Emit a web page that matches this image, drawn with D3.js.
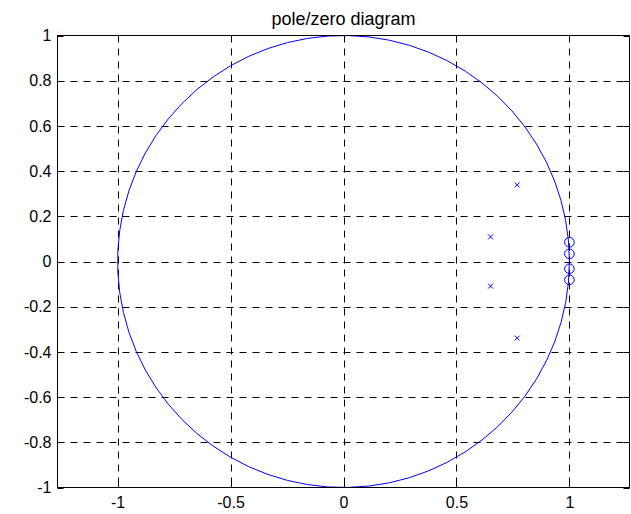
<!DOCTYPE html>
<html><head><meta charset="utf-8">
<script src="https://cdn.jsdelivr.net/npm/d3@7"></script>
<style>body{margin:0;background:#fff}svg{display:block}text{font-family:"Liberation Sans",Arial,sans-serif}</style>
</head><body>
<script>
const title = "pole/zero diagram";
const xTicks = [-1, -0.5, 0, 0.5, 1];
const yTicks = [-1, -0.8, -0.6, -0.4, -0.2, 0, 0.2, 0.4, 0.6, 0.8, 1];
const poleRe = [0.769, 0.651, 0.651, 0.769];
const poleIm = [0.339, 0.109, -0.109, -0.339];
const zeroRe = [1, 1, 1, 1];
const zeroIm = [0.085, 0.034, -0.032, -0.081];
const xDomain = [-1.266, 1.266];
const yDomain = [-1, 1];

const W = 631, H = 514;
const m = {l: 57.5, r: 629.5, t: 35.5, b: 487.5};
const svg = d3.select("body").append("svg").attr("width", W).attr("height", H);
const x = d3.scaleLinear().domain(xDomain).range([m.l, m.r]);
const y = d3.scaleLinear().domain(yDomain).range([m.b, m.t]);
const blue = "#0000ff";
const fontStack = "'Liberation Sans',Arial,sans-serif";

// grid
const g = svg.append("g");
g.selectAll(".vg").data(xTicks).join("line")
  .attr("x1", d => Math.round(x(d)) + 0.5).attr("x2", d => Math.round(x(d)) + 0.5)
  .attr("y1", m.t).attr("y2", m.b)
  .attr("stroke", "#000").attr("stroke-width", 1).attr("stroke-dasharray", "7,6");
g.selectAll(".hg").data(yTicks.slice(1, -1)).join("line")
  .attr("y1", d => Math.round(y(d)) + 0.5).attr("y2", d => Math.round(y(d)) + 0.5)
  .attr("x1", m.l).attr("x2", m.r)
  .attr("stroke", "#000").attr("stroke-width", 1).attr("stroke-dasharray", "7,6");

// unit circle (70-point polyline, as zplane draws it)
const ang = d3.range(70).map(i => 2 * Math.PI * i / 69);
svg.append("path")
  .attr("d", d3.line().x(a => x(Math.cos(a))).y(a => y(Math.sin(a)))(ang))
  .attr("fill", "none").attr("stroke", blue).attr("stroke-width", 1);

// axes
const tl = 6;
const xb = d3.axisBottom(x).tickValues(xTicks).tickSize(0).tickPadding(9).tickFormat(d3.format("~g"));
const xa = svg.append("g").attr("transform", `translate(0,${m.b})`).call(xb);
const yl = d3.axisLeft(y).tickValues(yTicks).tickSize(0).tickPadding(6).tickFormat(d3.format("~g"));
const ya = svg.append("g").attr("transform", `translate(${m.l},0)`).call(yl);
[xa, ya].forEach(a => {
  a.select(".domain").remove();
  a.selectAll("text").attr("font-size", 16).attr("fill", "#000").attr("font-family", fontStack)
    .text(d => d3.format("~g")(d).replace("\u2212", "-"));
});
// inward ticks
const tk = svg.append("g").attr("stroke", "#000").attr("stroke-width", 1);
xTicks.forEach(d => {
  const px = Math.round(x(d)) + 0.5;
  tk.append("line").attr("x1", px).attr("x2", px).attr("y1", m.b).attr("y2", m.b - tl);
  tk.append("line").attr("x1", px).attr("x2", px).attr("y1", m.t).attr("y2", m.t + tl);
});
yTicks.forEach(d => {
  const py = Math.round(y(d)) + 0.5;
  tk.append("line").attr("x1", m.l).attr("x2", m.l + tl).attr("y1", py).attr("y2", py);
  tk.append("line").attr("x1", m.r).attr("x2", m.r - tl).attr("y1", py).attr("y2", py);
});
svg.append("rect").attr("x", m.l).attr("y", m.t).attr("width", m.r - m.l).attr("height", m.b - m.t)
  .attr("fill", "none").attr("stroke", "#000").attr("stroke-width", 1);

// poles (x)
const s = 2.5;
const pg = svg.append("g").attr("stroke", blue).attr("stroke-width", 1);
poleRe.forEach((re, i) => {
  const cx = x(re), cy = y(poleIm[i]);
  pg.append("path").attr("d", `M${cx - s},${cy - s}L${cx + s},${cy + s}M${cx - s},${cy + s}L${cx + s},${cy - s}`);
});
// zeros (o)
svg.append("g").selectAll("circle").data(zeroRe.map((re, i) => [re, zeroIm[i]])).join("circle")
  .attr("cx", d => x(d[0])).attr("cy", d => y(d[1])).attr("r", 4.8)
  .attr("fill", "none").attr("stroke", blue).attr("stroke-width", 1);

svg.append("text").attr("x", (m.l + m.r) / 2).attr("y", 25).attr("text-anchor", "middle")
  .attr("font-size", 18).attr("fill", "#000").attr("font-family", fontStack).text(title);
</script>
</body></html>
